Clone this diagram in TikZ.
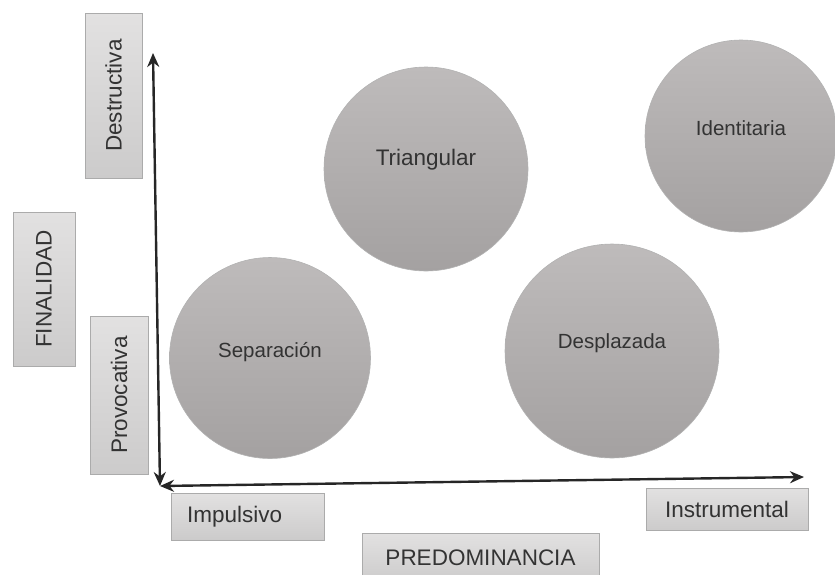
\documentclass[tikz,border=0pt]{standalone}
\usepackage{fontspec}
\setmainfont{Liberation Sans}
\usetikzlibrary{arrows.meta, positioning}

\definecolor{inkgray}{HTML}{333333}
\definecolor{blobtop}{HTML}{BEBBBB}
\definecolor{blobbot}{HTML}{A4A1A1}
\definecolor{boxtop}{HTML}{E2E1E1}
\definecolor{boxbot}{HTML}{CCCBCB}
\definecolor{boxline}{HTML}{ABABAB}

\begin{document}
\begin{tikzpicture}[x=1pt, y=1pt, yscale=-1, xscale=1,
  tag/.style={draw=boxline, line width=0.8pt, top color=boxtop, bottom color=boxbot,
    text=inkgray, inner sep=0pt, font=\fontsize{22.5}{26}\selectfont},
  blob/.style={circle, draw=gray!60, line width=0.6pt, top color=blobtop, bottom color=blobbot,
    inner sep=0pt, minimum size=#1},
  blobtext/.style={text=inkgray, inner sep=0.75pt, font=\fontsize{20.5}{24}\selectfont},
  axis/.style={line width=2.4pt, draw=black!85, {Stealth[length=14pt,width=12pt]}-{Stealth[length=14pt,width=12pt]}}]
\useasboundingbox (0,0) rectangle (835,574);
%Boxes
\node [tag, rotate=90, minimum width=165, minimum height=57] (destructiva) at (113.5,95.5) {Destructiva};
\node [tag, rotate=90, minimum width=154, minimum height=62] (finalidad) at (44,289) {FINALIDAD};
\node [tag, rotate=90, minimum width=158, minimum height=58] (provocativa) at (119,395) {Provocativa};
\node [tag, inner xsep=16pt, text width=121pt, align=left, minimum height=47] (impulsivo) at (247.5,516.5) {Impulsivo};
\node [tag, minimum width=237, minimum height=50] (predominancia) at (480.5,558) {PREDOMINANCIA};
\node [tag, minimum width=162, minimum height=42] (instrumental) at (727,509) {Instrumental};
%Circles
\node [blob=204] (triangular) at (426,169) {};
\node [blob=192] (identitaria) at (741,136) {};
\node [blob=201] (separacion) at (270,358) {};
\node [blob=214] (desplazada) at (612,351) {};
\node [blobtext, font=\fontsize{22.5}{26}\selectfont] (triangular-t) at ([yshift=-9pt]triangular.center) {Triangular};
\node [blobtext] (identitaria-t) at ([yshift=-8pt]identitaria.center) {Identitaria};
\node [blobtext] (separacion-t) at ([yshift=-6pt]separacion.center) {Separación};
\node [blobtext] (desplazada-t) at ([yshift=-8pt]desplazada.center) {Desplazada};
%Axes
\coordinate (origin) at (160,486);
\coordinate (ytop) at (153,53);
\coordinate (xend) at (804,477);
\draw [axis] (ytop) -- (origin);
\draw [axis] (origin) -- (xend);
\end{tikzpicture}
\end{document}
